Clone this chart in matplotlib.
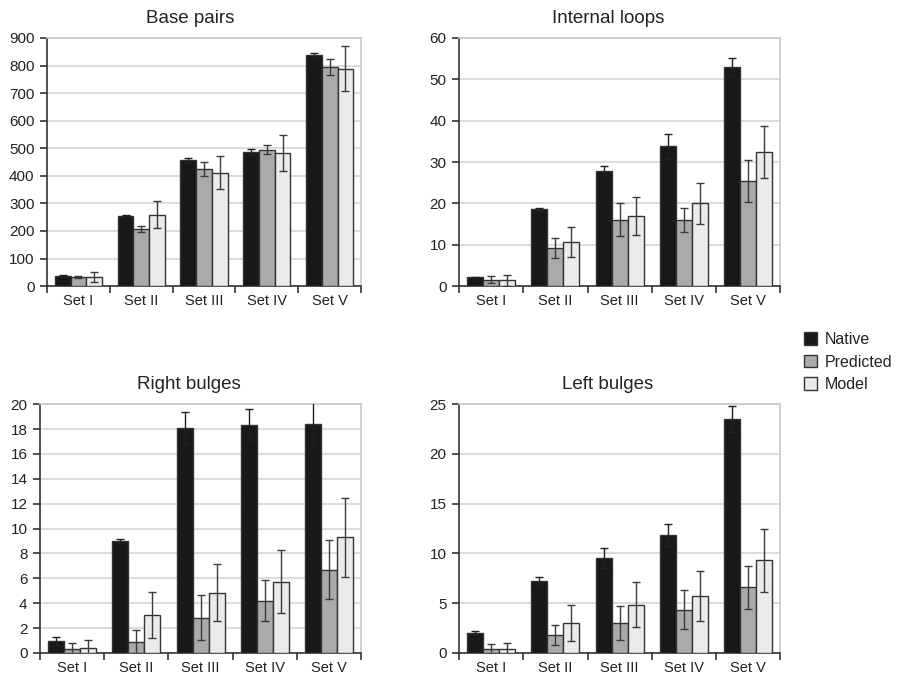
import matplotlib
matplotlib.use('Agg')
import matplotlib.pyplot as plt
from matplotlib.patches import Patch
import numpy as np

plt.rcParams['font.family'] = ['Liberation Sans', 'DejaVu Sans']

sets = ['Set I', 'Set II', 'Set III', 'Set IV', 'Set V']
series = ['Native', 'Predicted', 'Model']

# base pairs
bp_native = [38, 255, 457, 486, 838]
bp_native_err = [3, 2, 9, 10, 9]
bp_pred = [34, 207, 425, 494, 796]
bp_pred_err = [4, 12, 24, 16, 29]
bp_model = [33, 259, 411, 484, 789]
bp_model_err = [18, 48, 60, 65, 83]

# internal loops
il_native = [2.1, 18.6, 27.9, 33.8, 53.1]
il_native_err = [0.1, 0.4, 1.1, 3.1, 2.0]
il_pred = [1.5, 9.3, 16.0, 16.0, 25.5]
il_pred_err = [0.85, 2.4, 4.0, 3.0, 5.1]
il_model = [1.4, 10.7, 17.0, 20.0, 32.5]
il_model_err = [1.3, 3.6, 4.6, 5.0, 6.3]

# right bulges
rb_native = [0.95, 9.02, 18.07, 18.34, 18.4]
rb_native_err = [0.3, 0.16, 1.26, 1.26, 1.8]
rb_pred = [0.28, 0.89, 2.85, 4.2, 6.7]
rb_pred_err = [0.5, 0.96, 1.8, 1.66, 2.35]
rb_model = [0.4, 3.06, 4.86, 5.74, 9.29]
rb_model_err = [0.64, 1.84, 2.3, 2.5, 3.2]

# left bulges
lb_native = [2.0, 7.25, 9.5, 11.85, 23.5]
lb_native_err = [0.2, 0.4, 1.0, 1.15, 1.27]
lb_pred = [0.4, 1.85, 3.0, 4.36, 6.58]
lb_pred_err = [0.55, 1.0, 1.7, 1.93, 2.2]
lb_model = [0.4, 3.05, 4.87, 5.7, 9.3]
lb_model_err = [0.6, 1.8, 2.3, 2.5, 3.2]

colors = ['#181818', '#aaaaaa', '#ebecea']
err_colors = ['#202020', '#3a3a3a', '#3a3a3a']
edge = '#333333'
grid_c = '#d6d6d6'
txt = '#222222'

panels = [
    ('Base pairs', [0.0522, 0.578, 0.349, 0.366], 900, 100, 0.455,
     [bp_native, bp_pred, bp_model], [bp_native_err, bp_pred_err, bp_model_err]),
    ('Internal loops', [0.510, 0.578, 0.357, 0.366], 60, 10, 0.464,
     [il_native, il_pred, il_model], [il_native_err, il_pred_err, il_model_err]),
    ('Right bulges', [0.0444, 0.0369, 0.357, 0.367], 20, 2, 0.463,
     [rb_native, rb_pred, rb_model], [rb_native_err, rb_pred_err, rb_model_err]),
    ('Left bulges', [0.510, 0.0369, 0.357, 0.367], 25, 5, 0.463,
     [lb_native, lb_pred, lb_model], [lb_native_err, lb_pred_err, lb_model_err]),
]

fig = plt.figure(figsize=(9, 6.78), dpi=100)
x = np.arange(len(sets))
w = 0.25

for title, pos, ymax, step, tx, vals, errs in panels:
    ax = fig.add_axes(pos)
    for k in range(3):
        ax.bar(x + (k - 1) * w, vals[k], w, color=colors[k], edgecolor=edge,
               linewidth=1.0, zorder=3)
        ax.errorbar(x + (k - 1) * w, vals[k], yerr=errs[k], fmt='none',
                    ecolor=err_colors[k], elinewidth=1.0, capsize=3,
                    capthick=1.0, zorder=4)
    ax.set_xlim(-0.5, len(sets) - 0.5)
    ax.set_ylim(0, ymax)
    ax.set_yticks(np.arange(0, ymax + step / 2, step))
    ax.yaxis.grid(True, color=grid_c, linewidth=1.2, zorder=0)
    ax.set_axisbelow(True)
    # category ticks at group boundaries, labels centred
    ax.set_xticks(np.arange(-0.5, len(sets)), minor=False)
    ax.set_xticklabels([])
    ax.set_xticks(x, minor=True)
    ax.set_xticklabels(sets, minor=True)
    ax.tick_params(axis='x', which='major', direction='out', length=5,
                   width=1.2, color=edge)
    ax.tick_params(axis='x', which='minor', length=0, pad=6,
                   labelsize=10.5, labelcolor=txt)
    ax.tick_params(axis='y', direction='out', length=5, width=1.2,
                   color=edge, labelsize=11, labelcolor=txt, pad=4)
    for s in ['left', 'bottom']:
        ax.spines[s].set_color(edge)
        ax.spines[s].set_linewidth(1.2)
    for s in ['top', 'right']:
        ax.spines[s].set_color('#c8c8c8')
        ax.spines[s].set_linewidth(1.2)
    ax.set_title(title, x=tx, pad=11, fontsize=13.5, color=txt)

handles = [Patch(facecolor=c, edgecolor=edge, linewidth=1.0) for c in colors]
fig.legend(handles, series, loc='upper left', bbox_to_anchor=(0.893, 0.510),
           frameon=False, fontsize=11.5, handlelength=0.85, handleheight=0.85,
           handletextpad=0.45, labelspacing=0.46, borderpad=0, borderaxespad=0,
           labelcolor=txt)

fig.savefig('out.png', dpi=100, facecolor='white')
